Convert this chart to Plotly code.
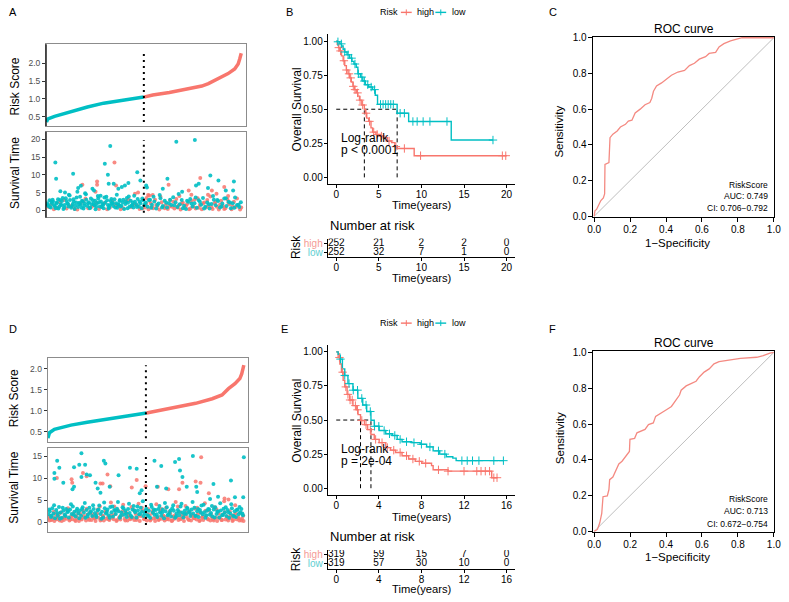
import numpy as np
import plotly.graph_objects as go

W, H = 789, 602
RED = "#F8766D"
CYAN = "#00BFC4"
RED_L = "#F59B95"
CYAN_L = "#5FCFD2"
FONT = "Liberation Sans, Arial, sans-serif"

# ---------------- DATA ----------------
# Panel A: risk score curve (patient rank, score)
a_low_rank = [0, 4, 21, 64, 106, 148, 191, 233, 252]
a_low_score = [0.35, 0.44, 0.51, 0.65, 0.77, 0.88, 0.95, 1.02, 1.05]
a_high_rank = [252, 275, 318, 360, 402, 419, 445, 470, 487, 496, 500, 504]
a_high_score = [1.05, 1.11, 1.18, 1.26, 1.36, 1.43, 1.57, 1.71, 1.84, 1.98, 2.12, 2.28]
a_n_low = 252

# Panel A: survival time points (alive = cyan, dead = red)
a_alive_rank = [2, 5, 8, 11, 14, 17, 20, 24, 27, 30, 33, 37, 40, 44, 47, 50, 54, 57, 61, 64, 68, 71, 75, 78, 82, 85, 89, 92, 96, 99,
                103, 106, 110, 113, 117, 120, 124, 127, 131, 134, 138, 141, 145, 148, 152, 155, 159, 162, 166, 169, 173, 176, 180, 183,
                187, 190, 194, 197, 201, 204, 208, 211, 215, 218, 222, 225, 229, 232, 236, 239, 243, 246, 250, 253,
                257, 262, 268, 273, 279, 284, 290, 295, 301, 306, 312, 317, 323, 328, 334, 339, 345, 350, 356, 361, 367, 372, 378, 383,
                389, 394, 400, 405, 411, 416, 422, 427, 433, 438, 444, 449, 455, 460, 466, 471, 477, 482, 488, 493, 499, 503,
                23, 25, 36, 69, 151, 165, 159, 161, 89, 82, 80, 119, 123, 174, 186, 195, 203, 212, 235, 243, 258, 260, 313, 301,
                336, 384, 387, 394, 418, 424, 445, 464, 485, 483, 351, 48, 58, 100, 140]
a_alive_time = [2.0, 1.2, 2.8, 0.8, 1.9, 2.5, 1.4, 0.6, 2.2, 3.1, 1.0, 1.7, 2.6, 0.4, 1.5, 3.4, 2.0, 1.1, 2.9, 0.7, 1.8, 2.4, 1.3, 3.6, 0.9, 2.1, 1.6, 2.7, 0.5, 1.9,
                3.0, 1.2, 2.3, 0.8, 1.7, 2.8, 1.4, 0.3, 2.0, 3.3, 1.1, 2.5, 1.8, 0.6, 2.2, 3.8, 1.5, 0.9, 2.6, 1.9, 1.2, 3.1, 2.0, 0.7,
                1.6, 2.9, 1.3, 2.3, 0.4, 1.8, 3.5, 2.1, 1.0, 2.7, 1.5, 0.8, 2.4, 1.7, 3.2, 1.1, 2.0, 0.6, 2.8, 1.4,
                2.2, 1.0, 3.0, 1.6, 2.5, 0.5, 1.9, 3.4, 1.2, 2.7, 0.8, 2.0, 1.5, 3.7, 2.3, 0.9, 1.7, 2.9, 1.3, 0.4, 2.4, 3.2, 1.1, 2.0,
                0.7, 2.8, 1.6, 3.5, 1.0, 2.2, 0.5, 1.8, 3.0, 1.4, 2.6, 0.8, 1.9, 3.3, 1.2, 2.4, 0.6, 2.0, 3.6, 1.5, 0.9, 2.3,
                13.5, 8.9, 5.4, 10.3, 13.1, 18.1, 10.0, 7.5, 6.9, 6.3, 5.2, 6.1, 5.6, 7.5, 6.1, 6.6, 7.0, 7.7, 10.7, 8.4, 7.0, 6.4, 8.9, 6.1,
                19.3, 19.8, 7.0, 7.5, 6.3, 9.8, 8.4, 5.6, 8.1, 5.6, 5.2, 5.0, 4.4, 4.8, 4.1]
a_alive_extra = [(4, 1.5), (9, 0.9), (13, 2.4), (16, 3.0), (22, 1.1), (26, 2.0), (31, 0.5), (35, 2.9), (39, 1.4), (42, 3.5),
                 (46, 0.8), (52, 2.6), (56, 1.8), (60, 4.2), (66, 1.2), (70, 3.1), (73, 0.4), (77, 2.2), (84, 1.7), (87, 3.8),
                 (91, 0.7), (94, 2.5), (98, 1.3), (102, 4.5), (108, 2.0), (112, 0.6), (115, 3.3), (122, 1.9), (126, 2.7),
                 (129, 1.0), (133, 4.0), (136, 2.3), (143, 0.9), (147, 1.6), (150, 3.6), (157, 2.8), (161, 0.5), (164, 1.4),
                 (168, 3.2), (171, 2.1), (178, 0.8), (182, 4.4), (185, 1.7), (189, 2.6), (192, 1.1), (199, 3.0), (206, 2.4),
                 (210, 0.6), (213, 3.9), (220, 1.3), (223, 2.2), (227, 4.1), (234, 0.9), (241, 2.5), (248, 3.3), (255, 1.8),
                 (265, 2.9), (271, 0.7), (277, 3.8), (287, 1.5), (293, 4.3), (299, 0.8), (310, 2.1), (320, 3.0), (331, 1.4),
                 (342, 4.6), (353, 0.6), (364, 2.7), (375, 1.9), (386, 3.6), (397, 2.4), (408, 0.5), (420, 1.7), (431, 4.0),
                 (442, 2.9), (453, 1.1), (464, 3.4), (475, 2.2), (486, 0.7), (497, 1.6)]
a_dead_rank = [6, 19, 35, 52, 66, 80, 95, 108, 122, 136, 150, 164, 178, 192, 206, 220, 234, 248,
               255, 259, 264, 270, 276, 281, 287, 292, 298, 303, 309, 314, 320, 325, 331, 336, 342, 347, 353, 358, 364, 369,
               375, 380, 386, 391, 397, 402, 408, 413, 419, 424, 430, 435, 441, 446, 452, 457, 463, 468, 474, 479, 485, 490, 496, 501,
               176, 131, 131, 93, 127, 180, 237, 229, 263, 316, 398, 428, 460, 440, 368, 375, 275]
a_dead_time = [0.9, 0.3, 2.3, 0.5, 1.1, 0.2, 2.5, 0.6, 1.3, 0.4, 2.0, 0.8, 1.5, 0.3, 2.6, 0.9, 1.4, 0.5,
               0.8, 3.5, 0.3, 1.9, 0.6, 3.0, 1.2, 0.2, 2.3, 0.9, 1.6, 0.4, 2.8, 1.0, 0.5, 3.2, 1.4, 0.2, 2.1, 0.7, 1.8, 0.3,
               2.6, 1.1, 0.5, 3.4, 1.5, 0.3, 2.2, 0.8, 1.3, 3.9, 0.4, 2.0, 1.0, 0.2, 2.7, 1.2, 0.6, 3.1, 1.7, 0.3, 2.4, 0.9, 1.4, 0.2,
               13.5, 8.1, 7.2, 7.2, 5.2, 7.0, 5.0, 4.7, 4.3, 7.2, 9.1, 5.6, 6.6, 4.7, 5.6, 4.4, 4.3]
a_dead_extra = [(12, 1.6), (28, 0.7), (45, 2.9), (59, 1.3), (73, 0.4), (88, 1.9), (101, 3.3), (115, 0.8), (129, 2.1),
                (143, 1.0), (157, 0.3), (171, 2.4), (185, 1.2), (199, 0.6), (213, 3.0), (227, 1.7), (241, 0.4),
                (258, 1.7), (267, 2.6), (273, 0.9), (284, 1.5), (295, 3.8), (306, 0.6), (318, 1.1), (328, 2.4), (339, 0.8),
                (350, 1.9), (361, 1.3), (372, 0.5), (383, 3.0), (394, 0.7), (405, 1.9), (416, 2.9), (427, 0.9), (438, 2.4),
                (449, 1.6), (460, 0.4), (471, 2.1), (482, 1.1), (493, 3.3), (504, 0.8), (266, 4.2), (344, 4.0), (418, 4.4),
                (470, 4.0)]

# Panel B: Kaplan-Meier (training)
b_high_t = [0, 0.12, 0.27, 0.42, 0.62, 0.81, 1.0, 1.19, 1.38, 1.58, 1.77, 1.96, 2.15, 2.35, 2.54, 2.73, 3.0, 3.3, 3.42, 3.58,
            3.81, 4.08, 4.27, 4.65, 5.12, 5.5, 6.0, 6.5, 6.88, 7.15, 9.15, 20.0]
b_high_s = [1.0, 0.976, 0.952, 0.928, 0.892, 0.856, 0.82, 0.788, 0.76, 0.73, 0.70, 0.668, 0.644, 0.62, 0.596, 0.567, 0.531, 0.499,
            0.471, 0.435, 0.411, 0.363, 0.332, 0.315, 0.303, 0.291, 0.267, 0.255, 0.226, 0.212, 0.159, 0.159]
b_low_t = [0, 0.15, 0.42, 0.62, 0.81, 1.0, 1.27, 1.58, 1.85, 2.08, 2.35, 2.54, 2.85, 3.12, 3.42, 3.81, 4.27, 4.58, 4.85, 7.15,
           8.5, 13.5, 18.4]
b_low_s = [1.0, 0.995, 0.98, 0.964, 0.94, 0.92, 0.90, 0.875, 0.851, 0.832, 0.808, 0.76, 0.736, 0.707, 0.68, 0.663, 0.644, 0.603,
           0.536, 0.471, 0.41, 0.274, 0.274]
b_high_cens = [0.3, 0.5, 0.9, 1.2, 1.5, 1.7, 2.0, 2.2, 2.5, 2.8, 3.1, 3.5, 3.9, 4.4, 4.8, 5.3, 6.2, 7.0, 8.0, 9.9, 19.5, 19.9]
b_low_cens = [0.2, 0.6, 1.0, 1.4, 1.8, 2.2, 2.6, 3.0, 3.3, 3.7, 4.1, 4.5, 5.2, 5.5, 5.8, 6.1, 6.4, 6.7, 7.5, 8.0, 9.0, 9.5,
              10.2, 11.0, 13.0, 18.4]
b_times = [0, 5, 10, 15, 20]
b_risk_high = [252, 21, 2, 2, 0]
b_risk_low = [252, 32, 7, 1, 0]
b_pval = "p < 0.0001"

# Panel C: ROC (training)
c_fpr = [0, 0.004, 0.013, 0.024, 0.037, 0.051, 0.058, 0.06, 0.073, 0.082, 0.088, 0.104, 0.128, 0.146, 0.174, 0.19, 0.21,
         0.228, 0.256, 0.283, 0.31, 0.32, 0.33, 0.347, 0.375, 0.40, 0.43, 0.466, 0.503, 0.53, 0.558, 0.585, 0.62, 0.64,
         0.676, 0.695, 0.722, 0.759, 0.795, 0.823, 1.0]
c_tpr = [0, 0.03, 0.038, 0.057, 0.088, 0.103, 0.125, 0.29, 0.295, 0.30, 0.44, 0.46, 0.478, 0.50, 0.515, 0.533, 0.538,
         0.579, 0.60, 0.625, 0.637, 0.66, 0.70, 0.73, 0.747, 0.766, 0.79, 0.808, 0.817, 0.844, 0.857, 0.88, 0.894, 0.912,
         0.918, 0.949, 0.967, 0.982, 0.991, 1.0, 1.0]
c_auc = "AUC: 0.749"
c_ci = "CI: 0.706\u22120.792"

# Panel D: risk score curve (validation)
d_low_rank = [0, 5, 21, 75, 128, 182, 235, 289, 321]
d_low_score = [0.35, 0.48, 0.56, 0.66, 0.73, 0.79, 0.84, 0.91, 0.95]
d_high_rank = [321, 374, 428, 481, 535, 567, 588, 609, 625, 631, 638]
d_high_score = [0.95, 1.02, 1.10, 1.18, 1.29, 1.38, 1.53, 1.65, 1.77, 1.88, 2.09]
d_n_low = 319

d_alive_rank = [2, 6, 10, 14, 18, 23, 27, 32, 36, 41, 45, 50, 54, 59, 63, 68, 72, 77, 81, 86, 90, 95, 99, 104, 108, 113, 117, 122,
                126, 131, 135, 140, 144, 149, 153, 158, 162, 167, 171, 176, 180, 185, 189, 194, 198, 203, 207, 212, 216, 221, 225,
                230, 234, 239, 243, 248, 252, 257, 261, 266, 270, 275, 279, 284, 288, 293, 297, 302, 306, 311, 315, 320, 324, 329,
                333, 338, 342, 347, 351, 356, 360, 365, 369, 374, 378, 383, 387, 392, 396, 401, 405, 410, 414, 419, 423, 428, 432,
                437, 441, 446, 450, 455, 459, 464, 468, 473, 477, 482, 486, 491, 495, 500, 504, 509, 513, 518, 522, 527, 531, 536,
                540, 545, 549, 554, 558, 563, 567, 572, 576, 581, 585, 590, 594, 599, 603, 608, 612, 617, 621, 626, 630, 635,
                21, 21, 30, 37, 50, 80, 85, 85, 102, 109, 109, 121, 126, 137, 155, 162, 171, 182, 187, 201, 230, 267, 289, 299,
                305, 347, 355, 369, 385, 414, 427, 430, 438, 452, 472, 483, 486, 528, 539, 596, 638, 636, 609, 554]
d_alive_time = [1.8, 2.5, 1.2, 3.2, 2.0, 0.9, 2.8, 1.5, 3.5, 2.2, 1.0, 2.6, 1.7, 3.0, 2.3, 1.1, 2.9, 1.9, 3.6, 2.4, 1.3, 3.1, 2.0,
                2.7, 1.5, 3.4, 2.2, 1.0, 2.8, 1.8, 3.3, 2.5, 1.4, 3.0, 2.1, 1.2, 2.7, 3.8, 1.9, 2.4, 1.1, 3.2, 2.0, 2.9, 1.6, 3.5,
                2.3, 1.3, 2.8, 1.9, 3.1, 2.5, 1.0, 2.2, 3.4, 1.7, 2.6, 1.2, 3.0, 2.1, 1.5, 2.9, 3.7, 2.3, 1.1, 2.7, 1.8, 3.3, 2.4,
                1.4, 2.0, 3.1, 1.6, 2.6, 1.0, 3.5, 2.2, 1.7, 2.8, 1.2, 3.0, 2.3, 1.5, 2.9, 0.9, 2.5, 3.4, 1.8, 2.1, 1.3, 3.2, 2.6,
                1.0, 2.0, 2.8, 1.6, 3.6, 2.2, 1.1, 2.7, 1.9, 3.1, 2.4, 1.4, 2.9, 2.0, 3.3, 1.5, 2.5, 1.2, 2.8, 3.8, 1.8, 2.3, 1.0,
                2.6, 3.0, 1.7, 2.1, 1.3, 2.9, 3.4, 1.9, 2.4, 1.1, 2.7, 1.6, 3.1, 2.2, 1.4, 2.8, 1.0, 2.0, 3.2, 1.5, 2.5, 1.2, 2.9,
                1.8, 2.3, 3.0, 1.6,
                11.2, 9.9, 14.0, 12.4, 9.0, 7.5, 8.1, 12.5, 13.1, 15.7, 10.3, 13.1, 10.9, 10.7, 9.0, 7.7, 6.7, 14.0, 13.4, 8.1,
                10.7, 12.4, 12.2, 6.6, 7.3, 14.0, 8.1, 12.8, 7.7, 13.7, 14.4, 11.8, 10.3, 8.1, 15.1, 8.1, 6.9, 5.3, 8.7, 9.5,
                14.8, 5.7, 5.7, 5.8]
d_alive_extra = [(4, 2.9), (12, 1.5), (20, 3.9), (30, 2.1), (39, 0.8), (48, 3.3), (57, 1.4), (66, 2.5), (75, 4.1), (84, 1.7),
                 (93, 2.6), (102, 0.9), (111, 3.0), (120, 4.4), (129, 1.3), (138, 2.2), (147, 3.9), (156, 1.6), (165, 2.9),
                 (174, 0.8), (183, 4.5), (192, 2.4), (201, 1.0), (210, 3.6), (219, 2.6), (228, 4.6), (237, 1.5), (246, 3.2),
                 (255, 2.0), (264, 4.2), (273, 1.2), (282, 2.7), (291, 3.6), (300, 1.9), (309, 4.8), (318, 2.6), (327, 1.4),
                 (336, 4.0), (345, 2.9), (354, 1.8), (363, 3.7), (372, 2.2), (381, 4.4), (390, 1.6), (399, 2.7), (408, 3.9),
                 (417, 1.3), (426, 2.4), (435, 4.2), (444, 1.9), (453, 3.3), (462, 2.1), (471, 4.6), (480, 1.4), (489, 3.0),
                 (498, 2.2), (507, 4.0), (516, 1.6), (525, 2.9), (534, 3.7), (543, 1.1), (552, 2.5), (561, 4.3), (570, 1.7),
                 (579, 3.4), (588, 2.3), (597, 4.1), (606, 1.3), (615, 2.8), (624, 3.5), (633, 2.0)]
d_dead_rank = [1, 5, 9, 13, 17, 21, 25, 29, 34, 38, 43, 47, 52, 56, 61, 65, 70, 74, 79, 83, 88, 92, 97, 101, 106, 110, 115, 119,
               124, 128, 133, 137, 142, 146, 151, 155, 160, 164, 169, 173, 178, 182, 187, 191, 196, 200, 205, 209, 214, 218, 223,
               227, 232, 236, 241, 245, 250, 254, 259, 263, 268, 272, 277, 281, 286, 290, 295, 299, 304, 308, 313, 317, 322, 326,
               331, 335, 340, 344, 349, 353, 358, 362, 367, 371, 376, 380, 385, 389, 394, 398, 403, 407, 412, 416, 421, 425, 430,
               434, 439, 443, 448, 452, 457, 461, 466, 470, 475, 479, 484, 488, 493, 497, 502, 506, 511, 515, 520, 524, 529, 533,
               538, 542, 547, 551, 556, 560, 565, 569, 574, 578, 583, 587, 592, 596, 601, 605, 610, 614, 619, 623, 628, 632, 637,
               29, 77, 79, 114, 126, 171, 178, 194, 203, 273, 289, 318, 358, 392, 427, 438, 481, 497, 499, 524, 575, 588]
d_dead_time = [0.8, 0.4, 1.5, 0.6, 1.0, 0.3, 1.8, 0.7, 1.3, 0.4, 2.2, 0.9, 0.5, 1.6, 0.8, 3.2, 0.4, 1.2, 0.7, 2.0, 0.5, 1.4, 0.9,
               0.3, 1.9, 0.6, 2.6, 1.1, 0.4, 1.7, 0.8, 2.3, 0.5, 1.3, 0.9, 0.3, 2.0, 1.0, 3.6, 0.6, 1.5, 0.4, 2.4, 0.8, 1.2, 0.5,
               4.5, 1.0, 0.7, 1.8, 0.3, 2.8, 1.1, 0.6, 1.6, 4.0, 0.8, 2.2, 0.4, 1.3, 0.7, 3.5, 1.0, 0.5, 1.9, 0.9, 4.2, 0.3, 1.4,
               2.6, 0.7, 1.1, 0.4, 3.0, 1.6, 0.6, 2.1, 0.9, 0.3, 4.1, 1.2, 0.6, 2.4, 0.8, 1.5, 0.4, 3.3, 1.0, 0.6, 2.0, 0.3, 1.3,
               0.8, 4.6, 1.1, 0.5, 2.3, 0.9, 1.6, 0.3, 3.7, 1.2, 0.7, 2.5, 0.4, 1.4, 0.9, 3.1, 0.6, 1.8, 0.3, 2.2, 1.0, 0.5, 4.3,
               1.5, 0.8, 2.7, 0.4, 1.2, 0.7, 3.4, 1.0, 0.3, 2.0, 0.9, 0.5, 1.7, 4.8, 0.6, 1.3, 0.4, 2.5, 0.9, 0.3, 1.6, 3.9, 0.7,
               1.1, 0.4, 2.1, 0.8, 0.3,
               10.1, 9.8, 9.0, 11.2, 10.5, 8.8, 8.8, 10.9, 8.2, 7.9, 9.6, 8.2, 8.1, 7.5, 7.5, 9.0, 9.3, 9.0, 14.8, 6.6, 5.4, 5.2]
d_dead_extra = [(3, 1.2), (11, 0.5), (19, 2.4), (27, 0.9), (36, 1.9), (45, 0.3), (54, 1.1), (63, 2.7), (72, 0.6), (81, 1.5),
                (90, 0.3), (99, 2.1), (108, 0.8), (117, 1.4), (126, 3.1), (135, 0.5), (144, 1.8), (153, 0.9), (162, 2.9),
                (171, 0.4), (180, 1.3), (189, 2.2), (198, 0.7), (207, 1.6), (216, 3.6), (225, 0.5), (234, 1.2), (243, 2.5),
                (252, 0.4), (261, 1.7), (270, 0.9), (279, 2.8), (288, 0.5), (297, 1.5), (306, 3.3), (315, 0.8), (324, 1.8),
                (333, 0.4), (342, 2.6), (351, 1.0), (360, 0.5), (369, 3.0), (378, 1.3), (387, 0.7), (396, 2.4), (405, 0.4),
                (414, 1.6), (423, 3.6), (432, 0.7), (441, 1.2), (450, 2.1), (459, 0.5), (468, 1.7), (477, 0.9), (486, 3.3),
                (495, 0.4), (504, 1.3), (513, 2.6), (522, 0.6), (531, 1.8), (540, 0.4), (549, 2.9), (558, 1.1), (567, 0.5),
                (576, 2.3), (585, 0.8), (594, 1.4), (603, 0.5), (612, 2.0), (621, 0.9), (630, 0.4), (636, 1.5)]

# Panel E: Kaplan-Meier (validation)
e_high_t = [0, 0.18, 0.34, 0.49, 0.65, 0.8, 1.02, 1.26, 1.57, 1.88, 2.05, 2.28, 2.65, 2.95, 3.26, 3.57, 4.03, 4.65, 5.1, 5.57,
            6.18, 6.8, 7.42, 8.03, 8.95, 9.1, 10.5, 14.6, 15.1]
e_high_s = [1.0, 0.959, 0.911, 0.851, 0.791, 0.743, 0.688, 0.647, 0.606, 0.575, 0.54, 0.497, 0.466, 0.43, 0.394, 0.358, 0.334,
            0.298, 0.279, 0.262, 0.238, 0.214, 0.197, 0.183, 0.166, 0.135, 0.125, 0.077, 0.077]
e_low_t = [0, 0.18, 0.34, 0.58, 0.8, 1.1, 1.57, 2.03, 2.49, 2.86, 3.26, 3.57, 4.03, 4.65, 5.26, 5.72, 6.18, 7.1, 7.88, 8.49,
           9.1, 9.72, 10.34, 10.95, 11.26, 15.72]
e_low_s = [1.0, 0.983, 0.947, 0.875, 0.827, 0.767, 0.719, 0.659, 0.61, 0.5625, 0.498, 0.454, 0.423, 0.399, 0.387, 0.358, 0.341,
           0.334, 0.322, 0.303, 0.274, 0.25, 0.231, 0.221, 0.202, 0.202]
e_high_cens = [0.3, 0.6, 0.9, 1.1, 1.3, 1.5, 1.8, 2.0, 2.4, 2.8, 3.2, 3.7, 4.3, 4.8, 5.4, 6.0, 6.6, 7.2, 7.8, 8.4, 9.6, 10.5,
               12.0, 13.2, 13.6, 14.0, 14.4, 14.8, 15.1]
e_low_cens = [0.4, 0.8, 1.2, 1.6, 2.0, 2.4, 2.8, 3.2, 3.6, 4.0, 4.5, 5.0, 5.5, 6.0, 6.6, 7.3, 8.0, 8.8, 9.6, 10.2, 11.8, 12.3,
              12.8, 13.4, 14.8, 15.7]
e_times = [0, 4, 8, 12, 16]
e_risk_high = [319, 59, 15, 7, 0]
e_risk_low = [319, 57, 30, 10, 0]
e_pval = "p = 2e-04"

# Panel F: ROC (validation)
f_fpr = [0, 0.018, 0.031, 0.042, 0.049, 0.073, 0.082, 0.086, 0.104, 0.119, 0.137, 0.155, 0.174, 0.196, 0.199, 0.225, 0.238,
         0.265, 0.283, 0.302, 0.329, 0.342, 0.375, 0.402, 0.43, 0.457, 0.475, 0.484, 0.512, 0.539, 0.567, 0.585, 0.612, 0.64,
         0.667, 0.695, 0.722, 0.777, 0.814, 0.905, 0.941, 0.978, 1.0]
f_tpr = [0, 0.011, 0.048, 0.10, 0.194, 0.198, 0.234, 0.289, 0.304, 0.34, 0.377, 0.392, 0.418, 0.447, 0.515, 0.52, 0.551,
         0.56, 0.57, 0.597, 0.606, 0.643, 0.661, 0.68, 0.698, 0.734, 0.762, 0.789, 0.813, 0.826, 0.839, 0.863, 0.89, 0.908,
         0.936, 0.949, 0.954, 0.963, 0.967, 0.973, 0.982, 0.996, 1.0]
f_auc = "AUC: 0.713"
f_ci = "CI: 0.672\u22120.754"


# ---------------- HELPERS ----------------
def xd(a, b):
    return [a / W, b / W]


def yd(top, bot):
    return [1 - bot / H, 1 - top / H]


def px(x):
    return x / W


def py(y):
    return 1 - y / H


def ann(text, x, y, size, xanchor="center", color="black", angle=0):
    return dict(text=text, x=px(x), y=py(y), xref="paper", yref="paper", showarrow=False,
                xanchor=xanchor, yanchor="middle", textangle=angle,
                font=dict(size=size, color=color, family=FONT))


def step_at(ts, ss, q):
    ts = np.asarray(ts)
    ss = np.asarray(ss)
    idx = np.searchsorted(ts, np.asarray(q), side="right") - 1
    return ss[np.clip(idx, 0, len(ss) - 1)]


def median_time(ts, ss):
    for t, s in zip(ts, ss):
        if s <= 0.5:
            return t
    return None


fig = go.Figure()
annotations = []
shapes = []


def sc(**kw):
    fig.add_trace(go.Scatter(showlegend=False, hoverinfo="skip", **kw))


# ---------- risk-score / survival-time panels ----------
def risk_panels(n1, n2, low_r, low_s, high_r, high_s, n_low, al_r, al_t, al_x, de_r, de_t, de_x):
    xa1, ya1 = f"x{n1}", f"y{n1}"
    xa2, ya2 = f"x{n2}", f"y{n2}"
    sc(x=low_r, y=low_s, mode="lines", line=dict(color=CYAN, width=3.5), xaxis=xa1, yaxis=ya1)
    sc(x=high_r, y=high_s, mode="lines", line=dict(color=RED, width=3.5), xaxis=xa1, yaxis=ya1)
    allsc = low_s + high_s
    sc(x=[n_low, n_low], y=[min(allsc), max(allsc)], mode="lines",
       line=dict(color="black", width=2, dash="2px,4px"), xaxis=xa1, yaxis=ya1)
    ar = al_r + [p[0] for p in al_x]
    at = al_t + [p[1] for p in al_x]
    dr = de_r + [p[0] for p in de_x]
    dt = de_t + [p[1] for p in de_x]
    sc(x=dr, y=dt, mode="markers", marker=dict(color=RED, size=4, opacity=0.85), xaxis=xa2, yaxis=ya2)
    sc(x=ar, y=at, mode="markers", marker=dict(color=CYAN, size=4, opacity=0.9), xaxis=xa2, yaxis=ya2)
    allt = at + dt
    sc(x=[n_low, n_low], y=[min(allt) - 0.9, max(allt)], mode="lines",
       line=dict(color="black", width=2, dash="2px,4px"), xaxis=xa2, yaxis=ya2)


risk_panels(1, 2, a_low_rank, a_low_score, a_high_rank, a_high_score, a_n_low,
            a_alive_rank, a_alive_time, a_alive_extra, a_dead_rank, a_dead_time, a_dead_extra)
risk_panels(6, 7, d_low_rank, d_low_score, d_high_rank, d_high_score, d_n_low,
            d_alive_rank, d_alive_time, d_alive_extra, d_dead_rank, d_dead_time, d_dead_extra)


# ---------- KM panels ----------
def km_panel(n, ntab, ht, hs, lt, ls, hc, lc, times, rh, rl):
    xa, ya = f"x{n}", f"y{n}"
    mh = median_time(ht, hs)
    ml = median_time(lt, ls)
    sc(x=[0, max(mh, ml)], y=[0.5, 0.5], mode="lines", line=dict(color="black", width=1, dash="4px,3px"),
       xaxis=xa, yaxis=ya)
    for m in (mh, ml):
        sc(x=[m, m], y=[0, 0.5], mode="lines", line=dict(color="black", width=1, dash="4px,3px"), xaxis=xa, yaxis=ya)
    sc(x=ht, y=hs, mode="lines", line=dict(color=RED, width=1.4, shape="hv"), xaxis=xa, yaxis=ya)
    sc(x=lt, y=ls, mode="lines", line=dict(color=CYAN, width=1.4, shape="hv"), xaxis=xa, yaxis=ya)
    sc(x=hc, y=list(step_at(ht, hs, hc)), mode="markers",
       marker=dict(symbol="cross-thin", size=6, line=dict(width=1, color=RED)), xaxis=xa, yaxis=ya)
    sc(x=lc, y=list(step_at(lt, ls, lc)), mode="markers",
       marker=dict(symbol="cross-thin", size=6, line=dict(width=1, color=CYAN)), xaxis=xa, yaxis=ya)
    xt, yt = f"x{ntab}", f"y{ntab}"
    sc(x=times, y=[2] * len(times), text=[str(v) for v in rh], mode="text",
       textfont=dict(size=10, color="black", family=FONT), xaxis=xt, yaxis=yt)
    sc(x=times, y=[1] * len(times), text=[str(v) for v in rl], mode="text",
       textfont=dict(size=10, color="black", family=FONT), xaxis=xt, yaxis=yt)


km_panel(3, 4, b_high_t, b_high_s, b_low_t, b_low_s, b_high_cens, b_low_cens, b_times, b_risk_high, b_risk_low)
km_panel(8, 9, e_high_t, e_high_s, e_low_t, e_low_s, e_high_cens, e_low_cens, e_times, e_risk_high, e_risk_low)


# ---------- ROC panels ----------
def roc_panel(n, fpr, tpr):
    xa, ya = f"x{n}", f"y{n}"
    sc(x=[0, 1], y=[0, 1], mode="lines", line=dict(color="#BEBEBE", width=1), xaxis=xa, yaxis=ya)
    sc(x=fpr, y=tpr, mode="lines", line=dict(color="#F48A82", width=1.3), xaxis=xa, yaxis=ya)


roc_panel(5, c_fpr, c_tpr)
roc_panel(10, f_fpr, f_tpr)

# ---------------- LAYOUT ----------------
layout = dict(width=W, height=H, margin=dict(l=0, r=0, t=0, b=0), paper_bgcolor="white", plot_bgcolor="white",
              font=dict(family=FONT, color="black"), showlegend=False)

GREY_T = "#4D4D4D"


def risk_axes(n1, n2, xr, y1r, y2r, y1box, y2box, xbox, y1ticks, y2ticks, fmt1):
    for n, yr, ybox, ticks, fmt in ((n1, y1r, y1box, y1ticks, fmt1), (n2, y2r, y2box, y2ticks, "d")):
        layout[f"xaxis{n}"] = dict(domain=xd(*xbox), range=xr, anchor=f"y{n}", showticklabels=False, ticks="",
                                   showgrid=False, zeroline=False, showline=True, mirror=True,
                                   linecolor="#8C8C8C", linewidth=1)
        layout[f"yaxis{n}"] = dict(domain=yd(*ybox), range=yr, anchor=f"x{n}", tickvals=ticks, tickformat=fmt,
                                   ticks="outside", ticklen=3, tickcolor="#333333", tickwidth=1,
                                   tickfont=dict(size=8.5, color=GREY_T), showgrid=False, zeroline=False,
                                   showline=True, mirror=True, linecolor="#8C8C8C", linewidth=1)


risk_axes(1, 2, [-1, 517], [0.24, 2.53], [-2.0, 22.1], (40, 123), (129, 216), (41.7, 245),
          [0.5, 1.0, 1.5, 2.0], [0, 5, 10, 15, 20], ".1f")
risk_axes(6, 7, [-1, 652], [0.26, 2.26], [-2.24, 16.86], (359, 444.3), (450.7, 536), (43.3, 246.9),
          [0.5, 1.0, 1.5, 2.0], [0, 5, 10, 15], ".1f")


def km_axes(n, ntab, xr, dtick, ybox, tbox):
    common = dict(showgrid=False, zeroline=False, showline=True, linecolor="black", linewidth=1,
                  ticks="outside", ticklen=3, tickcolor="black", tickfont=dict(size=10, color="black"))
    layout[f"xaxis{n}"] = dict(domain=xd(327.7, 518), range=xr, anchor=f"y{n}", tick0=0, dtick=dtick,
                               ticklabelstandoff=-2, **common)
    layout[f"yaxis{n}"] = dict(domain=yd(*ybox), range=[-0.05, 1.05], anchor=f"x{n}",
                               tickvals=[0, 0.25, 0.5, 0.75, 1.0], tickformat=".2f", ticklabelstandoff=-1, **common)
    layout[f"xaxis{ntab}"] = dict(domain=xd(327.7, 518), range=xr, anchor=f"y{ntab}", tick0=0, dtick=dtick,
                                  ticklabelstandoff=-2, **common)
    layout[f"yaxis{ntab}"] = dict(domain=yd(*tbox), range=[0.47, 2.51], anchor=f"x{ntab}", tickvals=[1, 2],
                                  ticktext=[f"<span style='color:{CYAN_L}'>low</span>",
                                            f"<span style='color:{RED_L}'>high</span>"],
                                  ticklabelstandoff=-1, **common)


km_axes(3, 4, [-1, 21], 5, (29.8, 182.2), (237.5, 256.7))
km_axes(8, 9, [-0.8, 16.8], 4, (345.8, 498.3), (554.3, 573.2))


def roc_axes(n, ybox, yr):
    common = dict(showgrid=False, zeroline=False, showline=True, mirror=True, linecolor="black", linewidth=1,
                  ticks="outside", ticklen=4, tickcolor="black", tickfont=dict(size=10, color="black"),
                  tickvals=[0, 0.2, 0.4, 0.6, 0.8, 1.0], tickformat=".1f", ticklabelstandoff=-1)
    layout[f"xaxis{n}"] = dict(domain=xd(596.7, 780.7), range=[-0.0088, 1.0], anchor=f"y{n}", **common)
    layout[f"yaxis{n}"] = dict(domain=yd(*ybox), range=yr, anchor=f"x{n}", **common)


roc_axes(5, (32.3, 215.5), [-0.0038, 1.0055])
roc_axes(10, (352.3, 535.7), [-0.0022, 1.0055])

# black left edge on panel A boxes
shapes.append(dict(type="line", xref="paper", yref="paper", x0=px(41.7), x1=px(41.7), y0=py(123), y1=py(40),
                   line=dict(color="black", width=1.2)))
shapes.append(dict(type="line", xref="paper", yref="paper", x0=px(41.7), x1=px(41.7), y0=py(216), y1=py(129),
                   line=dict(color="black", width=1.2)))

# panel letters
for lab, x, y in (("A", 2, 7), ("B", 283, 7), ("C", 550, 7), ("D", 2, 329), ("E", 278, 329), ("F", 550, 329)):
    annotations.append(ann(lab, x, y, 11, xanchor="left"))

# titles for A / D
annotations += [
    ann("Risk Score", 10, 83, 12, angle=-90),
    ann("Survival Time", 10, 171, 12, angle=-90),
    ann("Risk Score", 9, 400, 12, angle=-90),
    ann("Survival Time", 9, 491, 12, angle=-90),
]


# KM titles, legend, texts
def km_texts(yoff_leg, ysurv, ytime, ynum, yrisk, ytime2, ylog, ypv, pval):
    a = [
        ann("Overall Survival", 296.7, ysurv, 12, angle=-90),
        ann("Time(years)", 423, ytime, 11.2),
        ann("Number at risk", 328, ynum, 13, xanchor="left"),
        ann("Risk", 295, yrisk, 12, angle=-90),
        ann("Time(years)", 423, ytime2, 11.2),
        ann("Log-rank", 339, ylog, 12, xanchor="left"),
        ann(pval, 339, ypv, 12, xanchor="left"),
        ann("Risk", 379, yoff_leg, 9, xanchor="left"),
        ann("high", 416.5, yoff_leg, 9, xanchor="left"),
        ann("low", 451.5, yoff_leg, 9, xanchor="left"),
    ]
    s = []
    for x0, col in ((402, RED), (437, CYAN)):
        s.append(dict(type="line", xref="paper", yref="paper", x0=px(x0), x1=px(x0 + 11), y0=py(yoff_leg),
                      y1=py(yoff_leg), line=dict(color=col, width=1.4)))
        s.append(dict(type="line", xref="paper", yref="paper", x0=px(x0 + 5.5), x1=px(x0 + 5.5),
                      y0=py(yoff_leg - 3), y1=py(yoff_leg + 3), line=dict(color=col, width=1)))
    return a, s


a1, s1 = km_texts(7.5, 106, 203.5, 224, 246.7, 278, 135, 147.7, b_pval)
a2, s2 = km_texts(323.5, 422.5, 520.5, 540.7, 564, 594, 451, 464, e_pval)
annotations += a1 + a2
shapes += s1 + s2

# ROC texts
for (ytitle, ysens, yspec, yr1, yr2, yr3, auc, ci) in (
        (24, 128.3, 241.7, 183.3, 194.3, 206.7, c_auc, c_ci),
        (343.3, 440, 561.7, 502.7, 515, 527.3, f_auc, f_ci)):
    annotations += [
        ann("ROC curve", 689, ytitle, 12),
        ann("Sensitivity", 563, ysens, 11.5, angle=-90),
        ann("1\u2212Specificity", 683, yspec, 11.5),
        ann("RiskScore", 777, yr1, 8.5, xanchor="right"),
        ann(auc, 777, yr2, 8.5, xanchor="right"),
        ann(ci, 777, yr3, 8.5, xanchor="right"),
    ]

layout["annotations"] = annotations
layout["shapes"] = shapes
fig.update_layout(**layout)
fig.write_html("out.html")
